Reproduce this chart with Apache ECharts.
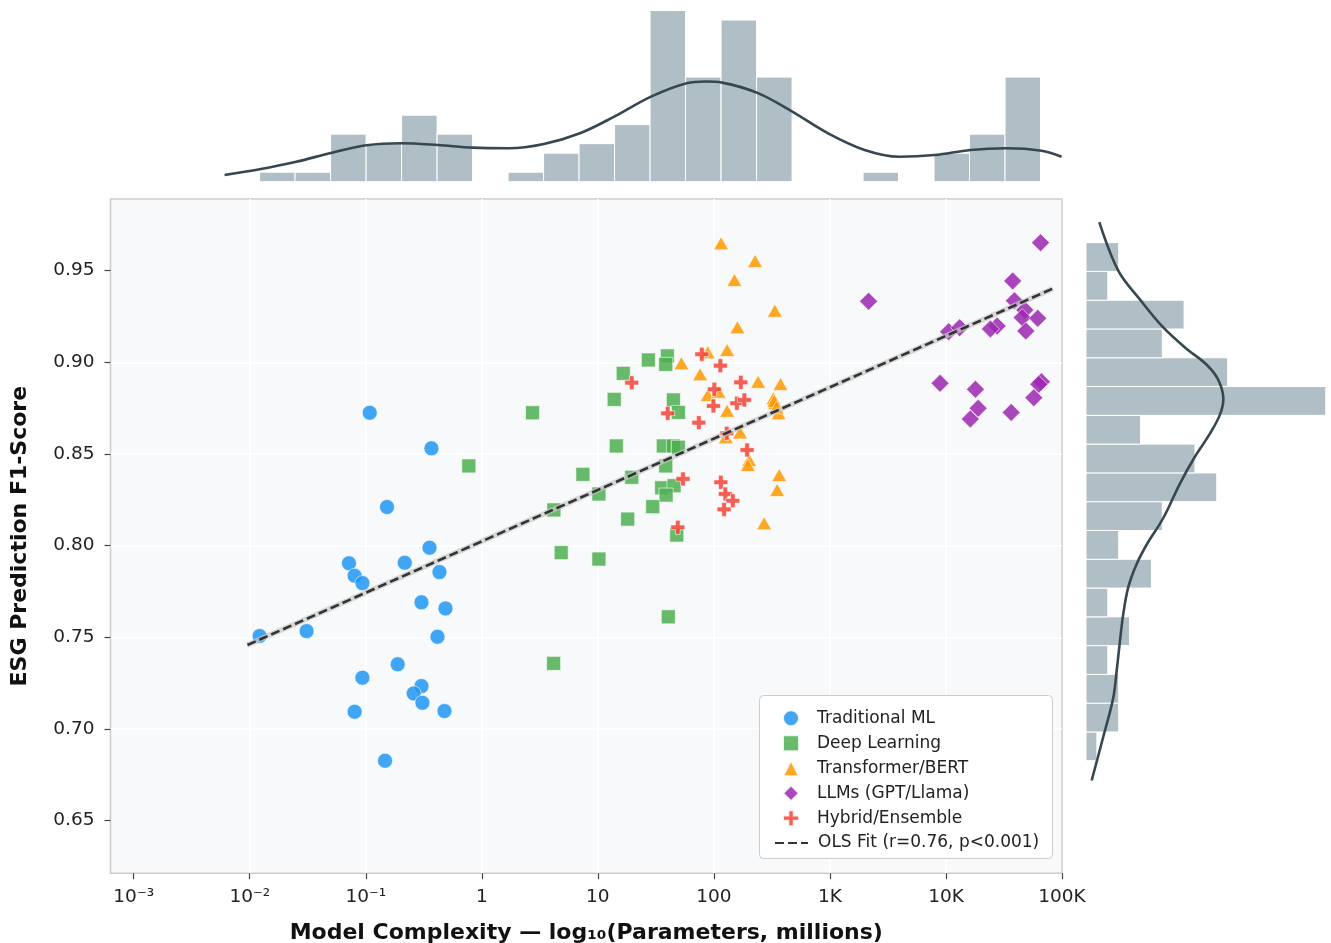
<!DOCTYPE html>
<html>
<head>
<meta charset="utf-8">
<script src="https://cdn.jsdelivr.net/npm/echarts@6/dist/echarts.min.js"></script>
<style>
html,body{margin:0;padding:0;background:#fff;}
#chart{width:1331px;height:943px;}
</style>
</head>
<body>
<div id="chart"></div>
<script>
// ---- Data (x values are log10(parameters in millions)) ----
const tradX = [-0.966,-0.434,-0.817,-0.451,-1.145,-0.664,-1.096,-1.029,-0.365,-0.520,-0.313,-1.915,-1.510,-0.382,-0.725,-1.029,-0.520,-0.587,-0.512,-1.096,-0.322,-0.834];
const tradY = [0.8725,0.8531,0.8211,0.7989,0.7904,0.7907,0.7836,0.7796,0.7856,0.7691,0.7658,0.7507,0.7534,0.7503,0.7353,0.7280,0.7234,0.7194,0.7143,0.7094,0.7098,0.6827];

const deepX = [1.435,1.599,1.585,1.219,1.141,0.437,1.651,1.694,1.159,1.564,1.651,1.694,1.585,0.871,1.292,1.550,1.657,1.588,1.009,1.473,0.621,1.257,1.680,0.684,1.009,1.607,0.619,-0.112];
const deepY = [0.9013,0.9035,0.8989,0.8940,0.8798,0.8725,0.8795,0.8727,0.8544,0.8544,0.8544,0.8537,0.8435,0.8389,0.8373,0.8316,0.8327,0.8276,0.8282,0.8213,0.8195,0.8145,0.8058,0.7962,0.7927,0.7612,0.7358,0.8435];

const transX = [2.062,2.355,2.177,2.525,2.203,1.947,2.114,1.720,1.881,2.381,2.574,1.947,2.039,2.513,2.528,2.557,2.114,2.226,2.103,2.304,2.293,2.563,2.545,2.433,2.520,2.540];
const transY = [0.9649,0.9553,0.9449,0.9282,0.9191,0.9055,0.9067,0.8995,0.8935,0.8894,0.8882,0.8822,0.8840,0.8804,0.8777,0.8722,0.8736,0.8618,0.8591,0.8467,0.8440,0.8385,0.8304,0.8122,0.8790,0.8755];

const llmX = [4.815,4.575,3.333,4.590,4.679,4.657,4.791,4.688,4.441,4.383,4.023,4.118,3.949,4.254,4.823,4.757,4.277,4.210,4.562,4.800];
const llmY = [0.9653,0.9444,0.9333,0.9336,0.9286,0.9244,0.9240,0.9171,0.9198,0.9182,0.9167,0.9189,0.8886,0.8853,0.8894,0.8807,0.8749,0.8691,0.8727,0.8880];

const hybX = [1.896,2.056,1.292,2.232,2.004,1.996,2.198,2.263,1.602,1.870,2.111,2.286,1.734,2.060,2.099,2.163,2.088,1.689];
const hybY = [0.9044,0.8982,0.8889,0.8891,0.8853,0.8762,0.8777,0.8795,0.8722,0.8671,0.8613,0.8522,0.8364,0.8346,0.8282,0.8245,0.8198,0.8100];

// OLS fit endpoints
const fitX = [-2.02, 4.92];
const fitY = [0.7458, 0.9402];

// Tick labels
const xTickVals = [-3,-2,-1,0,1,2,3,4,5];
const xTickLabels = ['10\u207B\u00B3','10\u207B\u00B2','10\u207B\u00B9','1','10','100','1K','10K','100K'];
const yTickVals = [0.65,0.70,0.75,0.80,0.85,0.90,0.95];

// Marginal histogram (top: x bins, right: y bins bottom->top)
const topHistRange = [-1.915, 4.815];
const topHistCounts = [1,1,5,4,7,5,0,1,3,4,6,18,11,17,11,0,0,1,0,3,5,11];
const rightHistRange = [0.6827, 0.9653];
const rightHistCounts = [1,3,3,2,4,2,6,3,7,12,10,5,22,13,7,9,2,3];

// Marginal KDE curves (in histogram count units)
const topKdeX = [-2.217,-1.915,-1.608,-1.29,-0.995,-0.690,-0.381,-0.078,0.233,0.535,0.846,1.153,1.458,1.766,1.929,2.071,2.380,2.675,2.984,3.299,3.597,3.903,4.211,4.518,4.823,4.996];
const topKdeH = [0.71,1.31,2.07,3.05,3.83,4.04,3.86,3.58,3.52,3.97,5.09,6.92,8.95,10.36,10.53,10.42,9.31,7.37,5.09,3.34,2.63,2.81,3.34,3.52,3.26,2.63];
const rightKdeY = [0.9765,0.9499,0.9342,0.9196,0.9081,0.8987,0.8904,0.8799,0.8715,0.8611,0.8485,0.8339,0.8151,0.8005,0.7900,0.7774,0.7628,0.7482,0.7315,0.7169,0.6959,0.6719];
const rightKdeH = [1.22,2.97,4.96,7.0,9.08,11.07,12.14,12.6,12.29,11.37,9.99,8.62,7.09,5.56,4.65,3.88,3.42,3.12,2.81,2.5,1.59,0.52];

// Series names
const groupNames = ['Traditional ML', 'Deep Learning', 'Transformer/BERT', 'LLMs (GPT/Llama)', 'Hybrid/Ensemble'];
const fitName = 'OLS Fit (r=0.76, p<0.001)';

// ---- helpers ----
const zip = (a, b) => a.map((v, i) => [v, b[i]]);
function binData(range, counts) {
  const w = (range[1] - range[0]) / counts.length;
  return counts.map((c, i) => [range[0] + i * w, range[0] + (i + 1) * w, c]);
}
const FONT = 'DejaVu Sans';
const X_MIN = -3.2, X_MAX = 5.0, Y_MIN = 0.6213, Y_MAX = 0.9891;
const HIST_COLOR = '#b0bec5';
const KDE_COLOR = '#37474f';
const crossPath = 'path://M4,0H8V4H12V8H8V12H4V8H0V4H4Z';

function scatter(name, xs, ys, symbol, size, color) {
  return {
    name, type: 'scatter', xAxisIndex: 0, yAxisIndex: 0,
    data: zip(xs, ys), symbol, symbolSize: size, z: 2,
    itemStyle: { color, opacity: 0.85, borderColor: '#ffffff', borderWidth: 0.7 },
    emphasis: { disabled: true }
  };
}

const chart = echarts.init(document.getElementById('chart'), null, { renderer: 'canvas' });

const legendText = { fontFamily: FONT, fontSize: 17, color: '#222', lineHeight: 17 };

const option = {
  animation: false,
  backgroundColor: '#ffffff',
  textStyle: { fontFamily: FONT },
  grid: [
    { left: 110.5, top: 199, width: 951.5, height: 674.3, show: true, containLabel: false, outerBoundsMode: 'none',
      backgroundColor: '#f8f9fa', borderColor: '#cccccc', borderWidth: 1.5 },
    { left: 110.5, top: 1, width: 951.5, height: 180.7, containLabel: false, outerBoundsMode: 'none' },
    { left: 1086, top: 199, width: 245, height: 674.3, containLabel: false, outerBoundsMode: 'none' }
  ],
  xAxis: [
    { type: 'value', gridIndex: 0, min: X_MIN, max: X_MAX, minInterval: 1, maxInterval: 1,
      name: 'Model Complexity \u2014 log\u2081\u2080(Parameters, millions)',
      nameLocation: 'middle', nameGap: 49,
      nameTextStyle: { fontFamily: FONT, fontSize: 22, fontWeight: 'bold', color: '#111' },
      axisLine: { show: false, onZero: false },
      axisTick: { show: true, length: 6, lineStyle: { color: '#444', width: 1.2 }, customValues: xTickVals },
      axisLabel: { show: true, margin: 14, fontFamily: FONT, fontSize: 18.5, color: '#222',
        customValues: xTickVals,
        formatter: v => { const i = xTickVals.findIndex(t => Math.abs(t - v) < 1e-6); return i >= 0 ? xTickLabels[i] : ''; } },
      splitLine: { show: true, showMinLine: false, showMaxLine: false, lineStyle: { color: '#ffffff', width: 1.5 } }
    },
    { type: 'value', gridIndex: 1, min: X_MIN, max: X_MAX, show: false },
    { type: 'value', gridIndex: 2, min: 0, max: 22.48, show: false }
  ],
  yAxis: [
    { type: 'value', gridIndex: 0, min: Y_MIN, max: Y_MAX, minInterval: 0.05, maxInterval: 0.05,
      name: 'ESG Prediction F1-Score', nameLocation: 'middle', nameGap: 79,
      nameTextStyle: { fontFamily: FONT, fontSize: 22, fontWeight: 'bold', color: '#111' },
      axisLine: { show: false, onZero: false },
      axisTick: { show: true, length: 6, lineStyle: { color: '#444', width: 1.2 }, customValues: yTickVals },
      axisLabel: { show: true, margin: 16, fontFamily: FONT, fontSize: 18.5, color: '#222',
        customValues: yTickVals,
        formatter: v => { const ok = yTickVals.some(t => Math.abs(t - v) < 1e-6); return ok ? v.toFixed(2) : ''; } },
      splitLine: { show: true, showMinLine: false, showMaxLine: false, lineStyle: { color: '#ffffff', width: 1.5 } }
    },
    { type: 'value', gridIndex: 1, min: 0, max: 19, show: false },
    { type: 'value', gridIndex: 2, min: Y_MIN, max: Y_MAX, show: false }
  ],
  graphic: [
    { type: 'rect', left: 759, top: 695, z: 3, silent: true,
      shape: { width: 293, height: 163, r: 4 },
      style: { fill: 'rgba(255,255,255,0.88)', stroke: '#cccccc', lineWidth: 1 } }
  ],
  legend: [
    { orient: 'vertical', left: 759, top: 695, z: 5,
      data: groupNames,
      itemWidth: 16, itemHeight: 16, itemGap: 7,
      padding: [14.2, 0, 0, 23],
      textStyle: Object.assign({ padding: [0, 0, 0, 13] }, legendText),
      selectedMode: false },
    { orient: 'vertical', left: 759, top: 820, z: 5,
      data: [{ name: fitName, itemStyle: { opacity: 0 } }],
      itemWidth: 33, itemHeight: 14,
      padding: [14.5, 0, 0, 15],
      textStyle: Object.assign({ padding: [0, 0, 0, 5] }, legendText),
      selectedMode: false }
  ],
  series: [
    // top marginal histogram
    { type: 'custom', xAxisIndex: 1, yAxisIndex: 1, data: binData(topHistRange, topHistCounts),
      encode: { x: [0, 1], y: 2 }, silent: true, z: 1,
      renderItem: (params, api) => {
        const p0 = api.coord([api.value(0), api.value(2)]);
        const p1 = api.coord([api.value(1), 0]);
        return { type: 'rect', shape: { x: p0[0], y: p0[1], width: p1[0] - p0[0], height: p1[1] - p0[1] },
          style: { fill: HIST_COLOR, stroke: '#ffffff', lineWidth: 1 } };
      } },
    { type: 'line', xAxisIndex: 1, yAxisIndex: 1, data: zip(topKdeX, topKdeH), smooth: 0.35,
      symbol: 'none', silent: true, z: 2, lineStyle: { color: KDE_COLOR, width: 2.6 } },
    // right marginal histogram
    { type: 'custom', xAxisIndex: 2, yAxisIndex: 2, data: binData(rightHistRange, rightHistCounts),
      encode: { x: 2, y: [0, 1] }, silent: true, z: 1,
      renderItem: (params, api) => {
        const p0 = api.coord([0, api.value(1)]);
        const p1 = api.coord([api.value(2), api.value(0)]);
        return { type: 'rect', shape: { x: p0[0], y: p0[1], width: p1[0] - p0[0], height: p1[1] - p0[1] },
          style: { fill: HIST_COLOR, stroke: '#ffffff', lineWidth: 1 } };
      } },
    { type: 'line', xAxisIndex: 2, yAxisIndex: 2, data: zip(rightKdeH, rightKdeY), smooth: 0.35,
      symbol: 'none', silent: true, z: 2, lineStyle: { color: KDE_COLOR, width: 2.6 } },
    // main scatter
    scatter(groupNames[0], tradX, tradY, 'circle', 15, '#2196f3'),
    scatter(groupNames[1], deepX, deepY, 'rect', 14, '#4caf50'),
    scatter(groupNames[2], transX, transY, 'triangle', [15, 13], '#ff9800'),
    scatter(groupNames[3], llmX, llmY, 'diamond', 18, '#9c27b0'),
    scatter(groupNames[4], hybX, hybY, crossPath, 14, '#f44336'),
    // OLS fit halo + dashed line
    { type: 'line', xAxisIndex: 0, yAxisIndex: 0, data: zip(fitX, fitY), symbol: 'none', silent: true, z: 4,
      lineStyle: { color: 'rgba(200,200,200,0.7)', width: 5.5 } },
    { name: fitName, type: 'line', xAxisIndex: 0, yAxisIndex: 0, data: zip(fitX, fitY),
      symbol: 'none', silent: true, z: 4,
      itemStyle: { color: '#333333' },
      lineStyle: { color: '#333333', width: 2.6, type: [9, 4] } }
  ]
};
chart.setOption(option);
</script>
</body>
</html>
